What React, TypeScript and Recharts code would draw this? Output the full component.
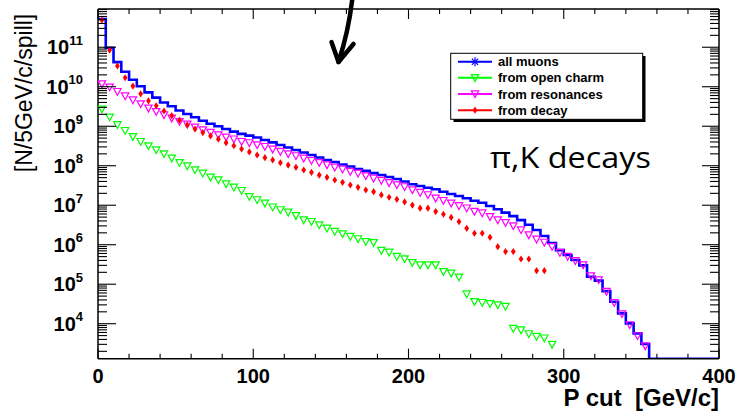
import React from 'react';
import { LineChart, Line, XAxis, YAxis } from 'recharts';

const FONT = '"Liberation Sans", Arial, Helvetica, sans-serif';
const BIN = 5; // GeV/c per bin
const P_MAX = 400;
const Y_MIN = 1300;
const Y_MAX = 9.3e11;

// muons per 5 GeV/c bin, bins start at P = 0
const allMuons = [
  5.2e11, 9.7e10, 4.2e10, 2.4e10, 1.5e10, 1.03e10, 7.2e9, 5.3e9, 4.0e9, 3.2e9,
  2.5e9, 2.04e9, 1.69e9, 1.38e9, 1.16e9, 1.0e9, 8.5e8, 7.3e8, 6.4e8, 5.8e8,
  5.2e8, 4.5e8, 3.9e8, 3.35e8, 2.9e8, 2.5e8, 2.16e8, 1.87e8, 1.62e8, 1.4e8,
  1.24e8, 1.07e8, 9.6e7, 8.3e7, 7.4e7, 6.5e7, 5.8e7, 5.2e7, 4.6e7, 4.0e7,
  3.4e7, 3.07e7, 2.78e7, 2.53e7, 2.2e7, 1.92e7, 1.71e7, 1.5e7, 1.3e7, 1.16e7,
  9.6e6, 7.9e6, 6.5e6, 5.3e6, 4.2e6, 3.2e6, 2.36e6, 1.66e6, 1.11e6, 7.3e5,
  5.5e5, 4.1e5, 3.0e5, 1.55e5, 1.23e5, 6.7e4, 3.6e4, 1.83e4, 1.02e4, 5.7e3,
  3.06e3, 0, 0, 0, 0, 0, 0, 0, 0, 0,
];
const openCharm = [
  2.69e9, 1.69e9, 1.08e9, 7.7e8, 5.4e8, 4.06e8, 3.16e8, 2.5e8, 1.98e8, 1.54e8,
  1.19e8, 9.8e7, 7.8e7, 6.4e7, 5.1e7, 4.35e7, 3.45e7, 2.84e7, 2.33e7, 1.64e7,
  1.36e7, 1.12e7, 8.9e6, 7.6e6, 6.6e6, 5.4e6, 4.2e6, 3.83e6, 3.16e6, 2.6e6,
  2.14e6, 1.87e6, 1.6e6, 1.4e6, 1.19e6, 1.12e6, 7.1e5, 6.4e5, 5.0e5, 4.35e5,
  3.5e5, 3.06e5, 3.06e5, 3.06e5, 2.07e5, 1.89e5, 1.5e5, 5.6e4, 3.6e4, 3.4e4,
  3.2e4, 2.98e4, 2.7e4, 7.5e3, 6.9e3, 5.5e3, 4.7e3, 4.3e3, 2.97e3,
];
const resonances = [
  1.17e10, 9.7e9, 7.5e9, 5.8e9, 4.6e9, 3.66e9, 2.85e9, 2.33e9, 1.93e9, 1.59e9,
  1.3e9, 1.12e9, 9.4e8, 8.0e8, 6.9e8, 6.0e8, 5.25e8, 4.7e8, 4.06e8, 3.77e8,
  3.35e8, 3.03e8, 2.61e8, 2.27e8, 1.98e8, 1.77e8, 1.54e8, 1.34e8, 1.19e8, 1.04e8,
  9.1e7, 8.1e7, 7.1e7, 6.4e7, 5.5e7, 4.8e7, 4.2e7, 3.7e7, 3.25e7, 2.9e7,
  2.43e7, 2.08e7, 1.82e7, 1.5e7, 1.3e7, 1.12e7, 9.6e6, 8.4e6, 6.9e6, 6.3e6,
  5.1e6, 4.2e6, 3.6e6, 2.98e6, 2.36e6, 1.76e6, 1.37e6, 1.14e6, 8.9e5, 6.3e5,
  5.0e5, 3.9e5, 3.06e5, 1.61e5, 1.28e5, 6.5e4, 3.4e4, 1.76e4, 9.3e3, 4.9e3,
  2.72e3,
];
const decay = [
  4.9e11, 8.5e10, 3.36e10, 1.69e10, 1.04e10, 6.6e9, 4.4e9, 3.3e9, 2.43e9, 1.85e9,
  1.42e9, 1.08e9, 8.5e8, 6.9e8, 5.7e8, 4.7e8, 3.83e8, 3.21e8, 2.65e8, 2.23e8,
  1.87e8, 1.6e8, 1.4e8, 1.19e8, 1.04e8, 9.1e7, 7.8e7, 6.8e7, 5.8e7, 5.1e7,
  4.35e7, 3.8e7, 3.25e7, 2.84e7, 2.43e7, 2.2e7, 1.82e7, 1.59e7, 1.41e7, 1.21e7,
  1.01e7, 8.4e6, 8.4e6, 6.9e6, 5.9e6, 4.9e6, 3.83e6, 2.6e6, 1.95e6, 1.95e6,
  1.54e6, 8.9e5, 6.7e5, 6.7e5, 4.35e5, 4.35e5, 2.2e5, 2.2e5,
];

const seriesNames = ['all muons', 'from open charm', 'from resonances', 'from decay'];
const seriesColors = ['#0000ff', '#00ff00', '#ff00ff', '#ff0000'];
const seriesMarkers = ['star', 'triangle', 'triangle', 'diamond'];

const xMajor = [0, 100, 200, 300, 400];
const yMajor = [1e4, 1e5, 1e6, 1e7, 1e8, 1e9, 1e10, 1e11];

// tick positions (minor + major)
const xTicks: number[] = [];
for (let p = 0; p <= P_MAX; p += 20) xTicks.push(p);
const yTicks: number[] = [];
for (let d = 3; d <= 11; d++) {
  for (let k = 1; k <= 9; k++) {
    const v = k * Math.pow(10, d);
    if (v >= Y_MIN && v <= Y_MAX) yTicks.push(k === 1 ? Math.pow(10, d) : v);
  }
}

// zero bins sit on the bottom of the log axis, like ROOT
const histData = [...allMuons, allMuons[allMuons.length - 1]].map((v, i) => ({
  p: i * BIN,
  v: v > 0 ? v : Y_MIN,
}));
const centers = (vals: number[]) => vals.map((v, i) => ({ p: i * BIN + BIN / 2, v }));

const Marker = ({ kind, cx, cy, color }: { kind: string; cx: number; cy: number; color: string }) => {
  if (kind === 'triangle') {
    return (
      <path
        d={`M${cx - 3.7},${cy - 3.2}L${cx + 3.7},${cy - 3.2}L${cx},${cy + 3.6}Z`}
        fill="none"
        stroke={color}
        strokeWidth={1.2}
      />
    );
  }
  if (kind === 'diamond') {
    return <path d={`M${cx},${cy - 3.6}L${cx + 2.4},${cy}L${cx},${cy + 3.6}L${cx - 2.4},${cy}Z`} fill={color} />;
  }
  const r = 4.5;
  return (
    <g stroke={color} strokeWidth={1.2}>
      <line x1={cx - r} x2={cx + r} y1={cy} y2={cy} />
      <line x1={cx} x2={cx} y1={cy - r} y2={cy + r} />
      <line x1={cx - r * 0.7} x2={cx + r * 0.7} y1={cy - r * 0.7} y2={cy + r * 0.7} />
      <line x1={cx - r * 0.7} x2={cx + r * 0.7} y1={cy + r * 0.7} y2={cy - r * 0.7} />
    </g>
  );
};

const dotOf = (kind: string, color: string) => (props: any) => {
  const { cx, cy, index } = props;
  if (cx == null || cy == null || isNaN(cy)) return <g key={index} />;
  return (
    <g key={index}>
      <Marker kind={kind} cx={cx} cy={cy} color={color} />
    </g>
  );
};

const isDecade = (v: number) => yMajor.includes(v);

const LeftTick = (props: any) => {
  const { x, y, payload } = props;
  const major = isDecade(payload.value);
  return (
    <g>
      <line x1={x} x2={x + (major ? 18 : 9)} y1={y} y2={y} stroke="#000" strokeWidth={1.1} />
      {major && (
        <text x={x - 15} y={y + 7} textAnchor="end" fontFamily={FONT} fontWeight="bold" fontSize={20} fill="#000">
          10
          <tspan dy={-9.5} fontSize={13}>
            {Math.round(Math.log10(payload.value))}
          </tspan>
        </text>
      )}
    </g>
  );
};

const RightTick = (props: any) => {
  const { x, y, payload } = props;
  const major = isDecade(payload.value);
  return <line x1={x} x2={x - (major ? 17 : 9)} y1={y} y2={y} stroke="#000" strokeWidth={1.1} />;
};

const BottomTick = (props: any) => {
  const { x, y, payload } = props;
  const major = xMajor.includes(payload.value);
  return (
    <g>
      <line x1={x} x2={x} y1={y} y2={y - (major ? 10 : 5)} stroke="#000" strokeWidth={1.1} />
      {major && (
        <text x={x} y={y + 24.5} textAnchor="middle" fontFamily={FONT} fontWeight="bold" fontSize={20} fill="#000">
          {payload.value}
        </text>
      )}
    </g>
  );
};

const TopTick = (props: any) => {
  const { x, y, payload } = props;
  const major = xMajor.includes(payload.value);
  return <line x1={x} x2={x} y1={y} y2={y + (major ? 10 : 5)} stroke="#000" strokeWidth={1.1} />;
};

const axisLine = { stroke: '#000', strokeWidth: 1.5 };

const Overlay: React.FC = () => {
  const legendRows = [61.7, 77.8, 94, 110.2];
  return (
    <svg width={737} height={412} style={{ position: 'absolute', left: 0, top: 0, pointerEvents: 'none' }}>
      <text
        transform="rotate(-90)"
        x={-93}
        y={24}
        textAnchor="middle"
        dominantBaseline="central"
        fontFamily={FONT}
        fontSize={23}
        fill="#000"
      >
        [N/5GeV/c/spill]
      </text>
      <text x={719} y={406} textAnchor="end" fontFamily={FONT} fontWeight="bold" fontSize={24} fill="#000" style={{ whiteSpace: 'pre' }}>
        P cut  [GeV/c]
      </text>

      {/* legend box with ROOT style shadow */}
      <rect x={453.5} y={56} width={192} height={66} fill="#000" />
      <rect x={450.7} y={53.3} width={192} height={66} fill="#fff" stroke="#000" strokeWidth={1} />
      {seriesNames.map((name, i) => (
        <g key={name}>
          <line x1={458} x2={492} y1={legendRows[i]} y2={legendRows[i]} stroke={seriesColors[i]} strokeWidth={2} />
          <Marker kind={seriesMarkers[i]} cx={475} cy={legendRows[i]} color={seriesColors[i]} />
          <text x={498} y={legendRows[i] + 4.6} fontFamily={FONT} fontWeight="bold" fontSize={13} fill="#000">
            {name}
          </text>
        </g>
      ))}

      <text x={490} y={167.5} fontFamily='"Open Sans", "Liberation Sans", sans-serif' fontSize={29} fill="#000" textLength={161} lengthAdjust="spacingAndGlyphs">
        π,K decays
      </text>

      {/* hand drawn arrow */}
      <g stroke="#000" strokeWidth={4.5} strokeLinecap="round" strokeLinejoin="round" fill="none">
        <path d="M352.5,-3 Q349,30 338.5,62" />
        <path d="M331.5,42 L338.5,62 L353.5,44" />
      </g>
    </svg>
  );
};

export default function App() {
  return (
    <div style={{ position: 'absolute', left: 0, top: 0, width: 737, height: 412, background: '#fff' }}>
      <LineChart width={737} height={412} margin={{ top: 4, right: 8, bottom: 23.3, left: 38 }}>
        <XAxis
          xAxisId="b"
          type="number"
          dataKey="p"
          domain={[0, P_MAX]}
          allowDataOverflow
          ticks={xTicks}
          interval={0}
          height={30}
          tickSize={0}
          tickMargin={0}
          tickLine={false}
          axisLine={axisLine}
          tick={BottomTick}
        />
        <XAxis
          xAxisId="t"
          orientation="top"
          type="number"
          dataKey="p"
          domain={[0, P_MAX]}
          allowDataOverflow
          ticks={xTicks}
          interval={0}
          height={5}
          tickSize={0}
          tickMargin={0}
          tickLine={false}
          axisLine={axisLine}
          tick={TopTick}
        />
        <YAxis
          yAxisId="l"
          type="number"
          scale="log"
          domain={[Y_MIN, Y_MAX]}
          allowDataOverflow
          ticks={yTicks}
          interval={0}
          width={60}
          tickSize={0}
          tickMargin={0}
          tickLine={false}
          axisLine={axisLine}
          tick={LeftTick}
        />
        <YAxis
          yAxisId="r"
          orientation="right"
          type="number"
          scale="log"
          domain={[Y_MIN, Y_MAX]}
          allowDataOverflow
          ticks={yTicks}
          interval={0}
          width={10}
          tickSize={0}
          tickMargin={0}
          tickLine={false}
          axisLine={axisLine}
          tick={RightTick}
        />
        <Line
          xAxisId="b"
          yAxisId="l"
          data={centers(resonances)}
          dataKey="v"
          stroke="none"
          dot={dotOf('triangle', seriesColors[2])}
          activeDot={false}
          isAnimationActive={false}
        />
        <Line
          xAxisId="b"
          yAxisId="l"
          data={centers(openCharm)}
          dataKey="v"
          stroke="none"
          dot={dotOf('triangle', seriesColors[1])}
          activeDot={false}
          isAnimationActive={false}
        />
        <Line
          xAxisId="b"
          yAxisId="l"
          data={centers(decay)}
          dataKey="v"
          stroke="none"
          dot={dotOf('diamond', seriesColors[3])}
          activeDot={false}
          isAnimationActive={false}
        />
        <Line
          xAxisId="b"
          yAxisId="l"
          data={histData}
          dataKey="v"
          type="stepAfter"
          stroke={seriesColors[0]}
          strokeWidth={2.6}
          dot={false}
          activeDot={false}
          isAnimationActive={false}
        />
      </LineChart>
      <Overlay />
    </div>
  );
}
